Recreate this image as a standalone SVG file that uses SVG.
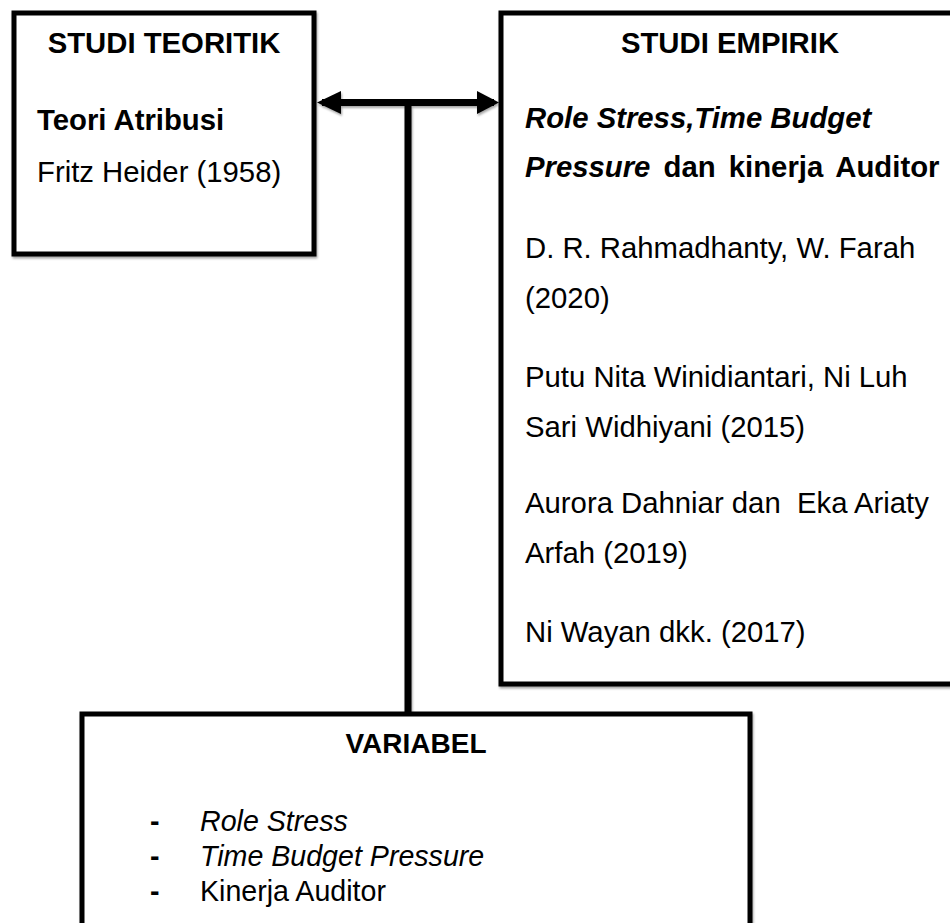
<svg xmlns="http://www.w3.org/2000/svg" width="950" height="923" viewBox="0 0 950 923">
  <style>
    .box { fill: #ffffff; stroke: #000000; stroke-width: 5; }
    .t { font-family: "Liberation Sans", Arial, sans-serif; font-size: 29.3px; fill: #000000; }
    .s { font-size: 28.6px; }
    .b { font-weight: bold; }
    .i { font-style: italic; }
    .conn { stroke: #000000; stroke-width: 7; fill: none; }
  </style>
  <defs>
    <filter id="sh" x="-5%" y="-5%" width="110%" height="110%">
      <feDropShadow dx="1" dy="2" stdDeviation="1.2" flood-color="#000000" flood-opacity="0.35"/>
    </filter>
  </defs>

  <g id="connectors" filter="url(#sh)">
    <line class="conn" x1="322" y1="102.5" x2="494" y2="102.5"/>
    <path d="M317,102.5 L341,91 L341,114 Z" fill="#000000"/>
    <path d="M499,102.5 L477,91 L477,114 Z" fill="#000000"/>
    <line class="conn" x1="408" y1="102.5" x2="408" y2="712"/>
  </g>

  <g id="studi-teoritik">
    <rect class="box" x="14" y="13" width="300" height="241" filter="url(#sh)"/>
    <text class="t b" x="164" y="53" text-anchor="middle">STUDI TEORITIK</text>
    <text class="t b" x="37" y="130">Teori Atribusi</text>
    <text class="t" x="37" y="182">Fritz Heider (1958)</text>
  </g>

  <g id="studi-empirik">
    <rect class="box" x="501" y="13" width="460" height="671" filter="url(#sh)"/>
    <text class="t b" x="730" y="53" text-anchor="middle">STUDI EMPIRIK</text>
    <text class="t b i" x="525" y="128">Role Stress,Time Budget</text>
    <text class="t b" x="525" y="177" word-spacing="5"><tspan class="i">Pressure</tspan> dan kinerja Auditor</text>
    <text class="t" x="525" y="258">D. R. Rahmadhanty, W. Farah</text>
    <text class="t" x="525" y="308">(2020)</text>
    <text class="t" x="525" y="387">Putu Nita Winidiantari, Ni Luh</text>
    <text class="t" x="525" y="437">Sari Widhiyani (2015)</text>
    <text class="t" x="525" y="513" xml:space="preserve">Aurora Dahniar dan  Eka Ariaty</text>
    <text class="t" x="525" y="563">Arfah (2019)</text>
    <text class="t" x="525" y="642">Ni Wayan dkk. (2017)</text>
  </g>

  <g id="variabel">
    <rect class="box" x="82" y="714" width="668" height="240" filter="url(#sh)"/>
    <text class="t b" x="416" y="753" text-anchor="middle" style="font-size:28px">VARIABEL</text>
    <text class="t s b" x="150" y="831">-</text>
    <text class="t s i" x="200" y="831">Role Stress</text>
    <text class="t s b" x="150" y="866">-</text>
    <text class="t s i" x="200" y="866">Time Budget Pressure</text>
    <text class="t s b" x="150" y="901">-</text>
    <text class="t s" x="200" y="901">Kinerja Auditor</text>
  </g>
</svg>
